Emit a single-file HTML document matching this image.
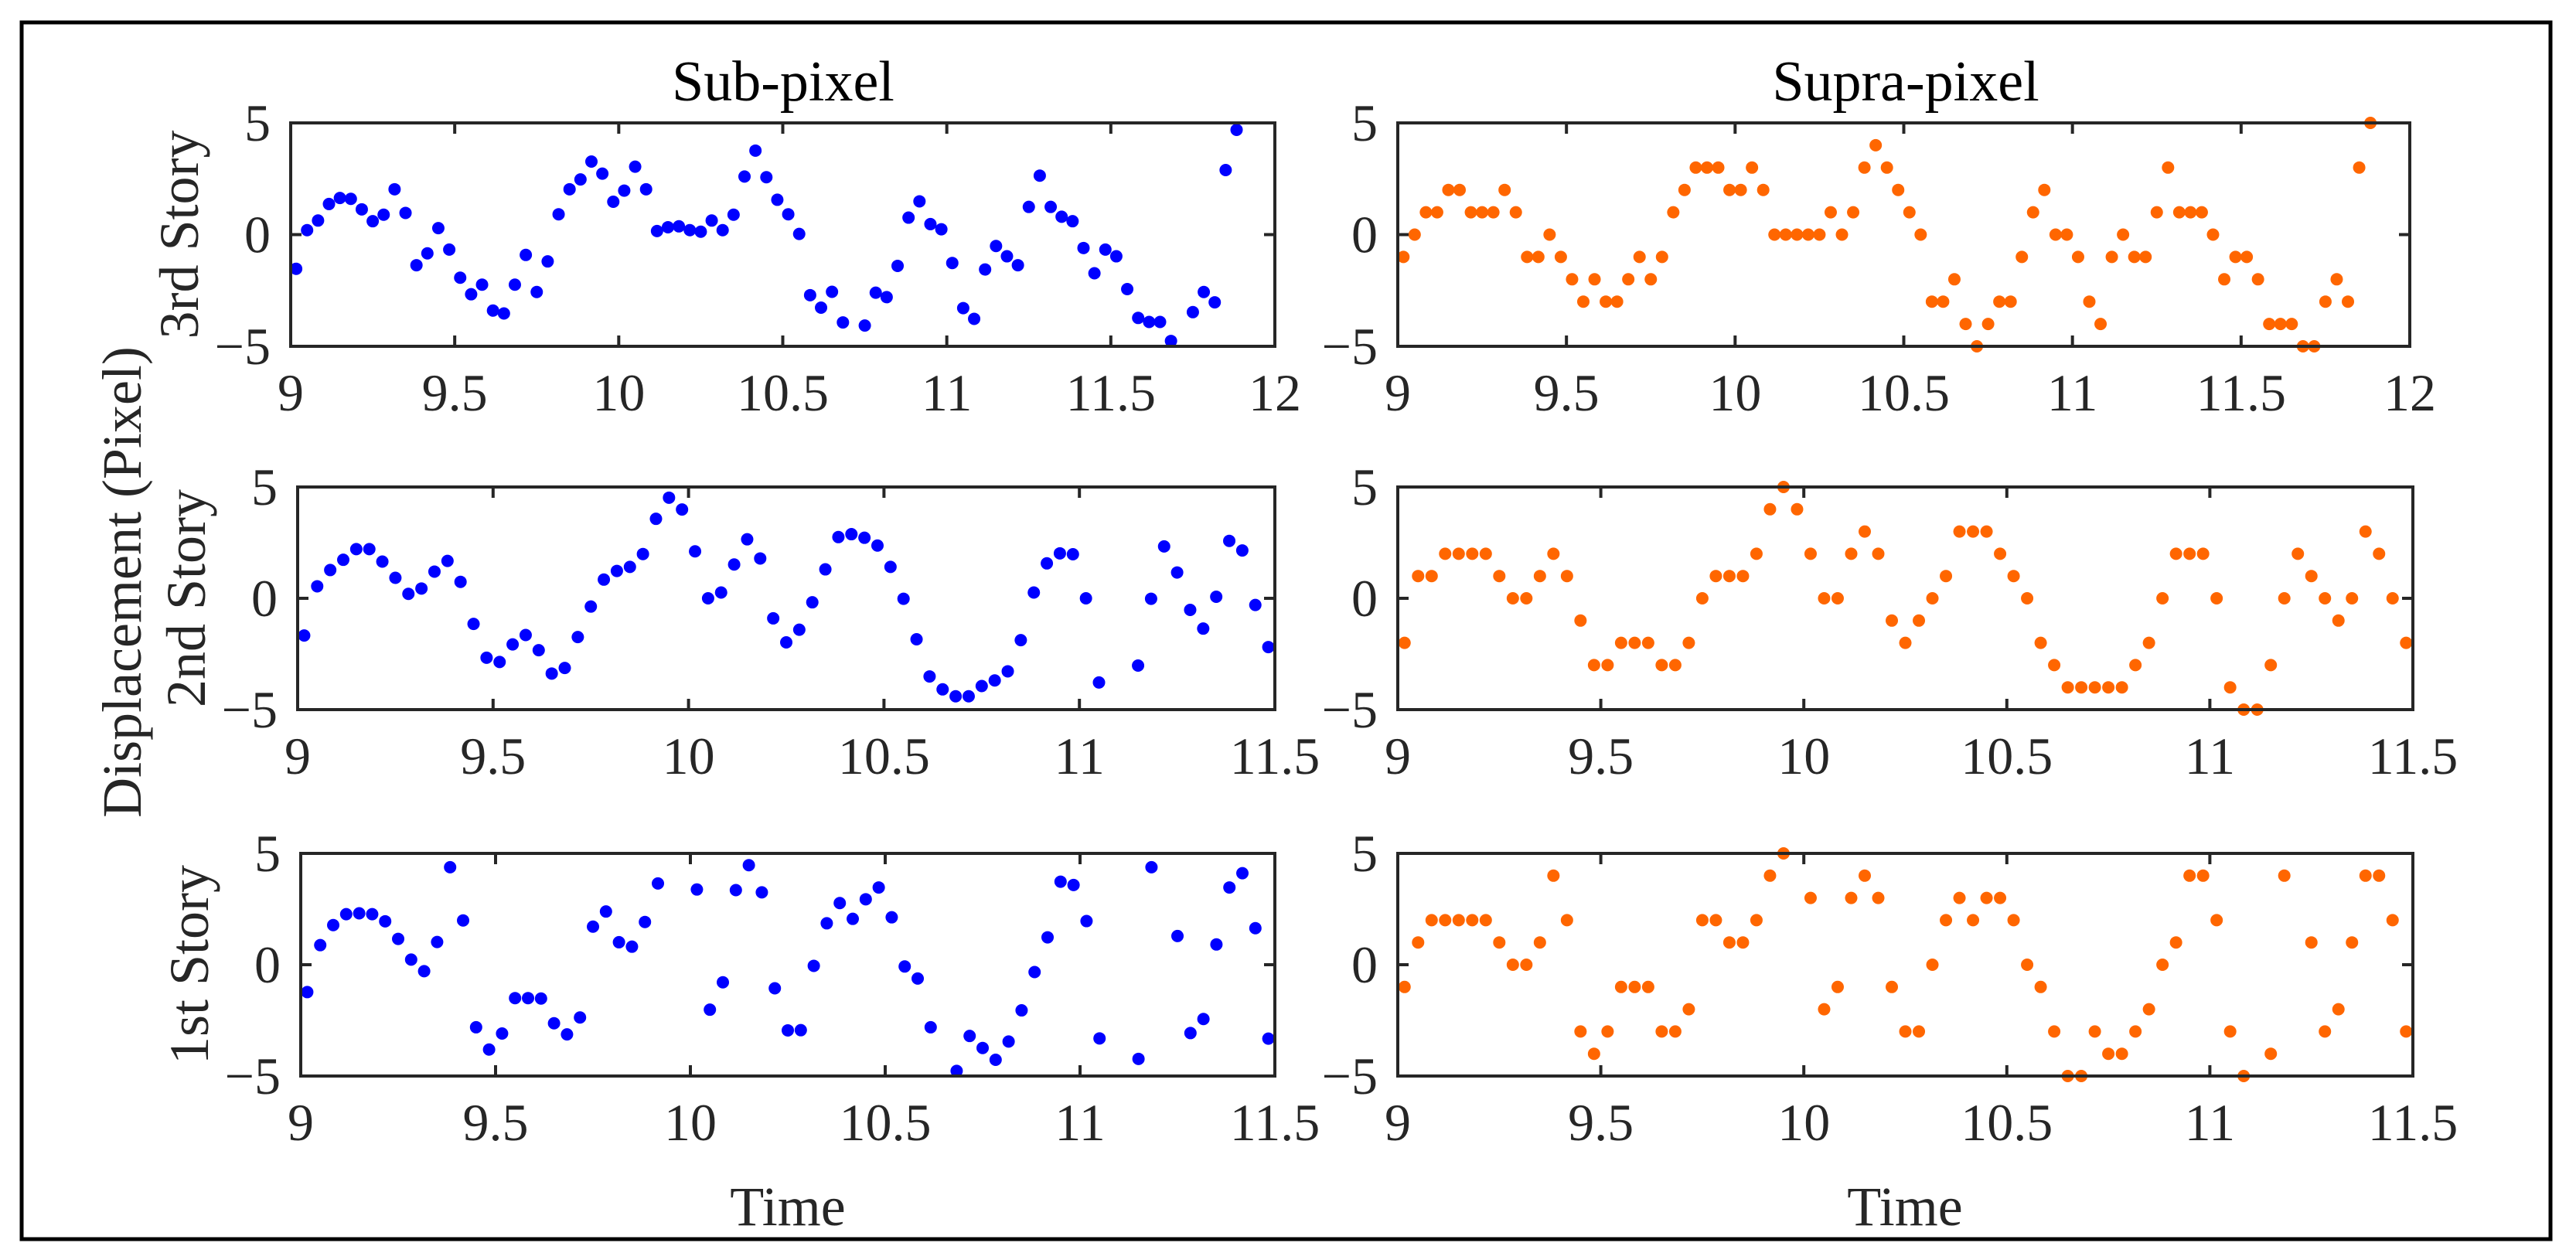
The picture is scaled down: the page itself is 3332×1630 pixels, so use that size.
<!DOCTYPE html>
<html><head><meta charset="utf-8"><style>
html,body{margin:0;padding:0;background:#fff;}
svg{display:block;font-family:"Liberation Serif",serif;}
</style></head><body>
<svg id="fig" width="3332" height="1630" viewBox="0 0 3332 1630" xmlns="http://www.w3.org/2000/svg">
<rect x="0" y="0" width="3332" height="1630" fill="#fff"/>
<rect x="28" y="29" width="3271" height="1574" fill="none" stroke="#000" stroke-width="5"/>
<text x="1013" y="130" font-size="74" text-anchor="middle" fill="#000">Sub-pixel</text>
<text x="2465" y="130" font-size="74" text-anchor="middle" fill="#000">Supra-pixel</text>
<text transform="translate(182,753) rotate(-90)" font-size="72" text-anchor="middle" fill="#262626">Displacement (Pixel)</text>
<text x="1019" y="1585" font-size="72" text-anchor="middle" fill="#262626">Time</text>
<text x="2464" y="1585" font-size="72" text-anchor="middle" fill="#262626">Time</text>
<g id="plots"></g>
</svg>
<script>
const subStory3 = [-1.53,0.2,0.63,1.37,1.64,1.6,1.13,0.6,0.89,2.03,0.97,-1.37,-0.84,0.29,-0.67,-1.93,-2.67,-2.24,-3.4,-3.53,-2.24,-0.91,-2.57,-1.2,0.91,2.03,2.47,3.27,2.73,1.47,1.97,3.04,2.03,0.16,0.33,0.37,0.2,0.13,0.63,0.2,0.89,2.6,3.76,2.57,1.56,0.91,0.03,-2.71,-3.27,-2.56,-3.93,-5.2,-4.07,-2.6,-2.8,-1.4,0.76,1.49,0.47,0.24,-1.27,-3.29,-3.77,-1.56,-0.51,-0.97,-1.37,1.24,2.64,1.24,0.8,0.6,-0.6,-1.73,-0.67,-0.97,-2.44,-3.73,-3.91,-3.91,-4.76,-5.2,-3.47,-2.57,-3.03,2.89,4.69];
const supraStory3 = [-1,0,1,1,2,2,1,1,1,2,1,-1,-1,0,-1,-2,-3,-2,-3,-3,-2,-1,-2,-1,1,2,3,3,3,2,2,3,2,0,0,0,0,0,1,0,1,3,4,3,2,1,0,-3,-3,-2,-4,-5,-4,-3,-3,-1,1,2,0,0,-1,-3,-4,-1,0,-1,-1,1,3,1,1,1,0,-2,-1,-1,-2,-4,-4,-4,-5,-5,-3,-2,-3,3,5];
const subStory2 = [-1.67,0.54,1.27,1.73,2.21,2.21,1.65,0.92,0.2,0.44,1.2,1.68,0.74,-1.15,-2.67,-2.86,-2.07,-1.65,-2.33,-3.38,-3.13,-1.74,-0.37,0.84,1.23,1.41,1.99,3.57,4.52,3.99,2.11,0,0.26,1.52,2.65,1.79,-0.9,-1.98,-1.41,-0.18,1.3,2.75,2.88,2.72,2.37,1.41,-0.02,-1.84,-3.51,-4.09,-4.4,-4.4,-3.94,-3.69,-3.28,-1.88,0.26,1.57,2.02,1.98,0,-3.78,-5.3,-5.3,-3.02,-0.02,2.33,1.16,-0.52,-1.36,0.07,2.58,2.15,-0.3,-2.19];
const supraStory2 = [-2,1,1,2,2,2,2,1,0,0,1,2,1,-1,-3,-3,-2,-2,-2,-3,-3,-2,0,1,1,1,2,4,5,4,2,0,0,2,3,2,-1,-2,-1,0,1,3,3,3,2,1,0,-2,-3,-4,-4,-4,-4,-4,-3,-2,0,2,2,2,0,-4,-5,-5,-3,0,2,1,0,-1,0,3,2,0,-2];
const subStory1 = [-1.23,0.88,1.78,2.27,2.31,2.27,1.95,1.16,0.23,-0.29,1.02,4.38,1.99,-2.81,-3.81,-3.09,-1.5,-1.5,-1.52,-2.63,-3.13,-2.37,1.71,2.39,1.01,0.81,1.92,3.65,5.3,5.6,3.38,-2.02,-0.79,3.35,4.47,3.25,-1.06,-2.95,-2.94,-0.05,1.86,2.77,2.06,2.94,3.47,2.13,-0.08,-0.62,-2.81,-5.3,-4.77,-3.2,-3.74,-4.27,-3.45,-2.05,-0.33,1.23,3.73,3.58,1.96,-3.31,-5.3,-5.6,-4.23,4.38,5.6,1.29,-3.07,-2.44,0.91,3.47,4.11,1.64,-3.32];
const supraStory1 = [-1,1,2,2,2,2,2,1,0,0,1,4,2,-3,-4,-3,-1,-1,-1,-3,-3,-2,2,2,1,1,2,4,5,6,3,-2,-1,3,4,3,-1,-3,-3,0,2,3,2,3,3,2,0,-1,-3,-5,-5,-3,-4,-4,-3,-2,0,1,4,4,2,-3,-5,-6,-4,4,6,1,-3,-2,1,4,4,2,-3];
const xTicksTop = [9,9.5,10,10.5,11,11.5,12];
const xTicksLow = [9,9.5,10,10.5,11,11.5];
const yTicks = [-5,0,5];
const startTime = 9.0167;
const sampleStep = 1/30;

const NS = 'http://www.w3.org/2000/svg';
const root = document.getElementById('plots');
function mk(tag, attrs, parent){const e=document.createElementNS(NS,tag);for(const k in attrs)e.setAttribute(k,attrs[k]);(parent||root).appendChild(e);return e;}
function fmt(v){return v<0?'\u2212'+Math.abs(v):String(v);}

const panels = [
 {name:'sub-pixel-3rd-story',data:subStory3,color:'#0000ff',x0:376,x1:1649,y0:159,y1:448,xmax:12,ticks:xTicksTop,story:'3rd Story'},
 {name:'supra-pixel-3rd-story',data:supraStory3,color:'#ff6600',x0:1808,x1:3117,y0:159,y1:448,xmax:12,ticks:xTicksTop},
 {name:'sub-pixel-2nd-story',data:subStory2,color:'#0000ff',x0:385,x1:1649,y0:630,y1:918,xmax:11.5,ticks:xTicksLow,story:'2nd Story'},
 {name:'supra-pixel-2nd-story',data:supraStory2,color:'#ff6600',x0:1808,x1:3121,y0:630,y1:918,xmax:11.5,ticks:xTicksLow},
 {name:'sub-pixel-1st-story',data:subStory1,color:'#0000ff',x0:389,x1:1649,y0:1104,y1:1392,xmax:11.5,ticks:xTicksLow,story:'1st Story'},
 {name:'supra-pixel-1st-story',data:supraStory1,color:'#ff6600',x0:1808,x1:3121,y0:1104,y1:1392,xmax:11.5,ticks:xTicksLow}
];

panels.forEach(p=>{
  const g = mk('g',{});
  
  
  const xs = t => p.x0 + (t-9)/(p.xmax-9)*(p.x1-p.x0);
  const ys = v => p.y1 - (v+5)/10*(p.y1-p.y0);
  const mg = mk('g',{},g);
  
  
  p.data.forEach((v,i)=>{
    if (v>5.05 || v<-5.05) return;
    const t = startTime + i*sampleStep;
    const c = mk('circle',{cx:xs(t),cy:ys(v),r:8,fill:p.color},mg);
    
    
  });
  const box = mk('rect',{x:p.x0,y:p.y0,width:p.x1-p.x0,height:p.y1-p.y0,fill:'none',stroke:'#262626','stroke-width':4},g);
  
  
  p.ticks.forEach(t=>{
    const x = xs(t);
    const tk = mk('path',{d:`M${x},${p.y1}V${p.y1-14}M${x},${p.y0}V${p.y0+14}`,stroke:'#262626','stroke-width':4},g);
    
    
    const lb = mk('text',{x:x,y:p.y1+83,'font-size':68,'text-anchor':'middle',fill:'#262626'},g);
    
    
    lb.textContent = String(t);
  });
  yTicks.forEach(v=>{
    const y = ys(v);
    const tk = mk('path',{d:`M${p.x0},${y}H${p.x0+14}M${p.x1},${y}H${p.x1-14}`,stroke:'#262626','stroke-width':4},g);
    
    
    const lb = mk('text',{x:p.x0-26,y:y+23,'font-size':68,'text-anchor':'end',fill:'#262626'},g);
    
    
    lb.textContent = fmt(v);
  });
  if (p.story){
    const cy = (p.y0+p.y1)/2;
    const cx = p.x0-120;
    const st = mk('text',{transform:`translate(${cx},${cy}) rotate(-90)`,'font-size':72,'text-anchor':'middle',fill:'#262626'},g);
    
    
    st.textContent = p.story;
  }
});
</script>
</body></html>
